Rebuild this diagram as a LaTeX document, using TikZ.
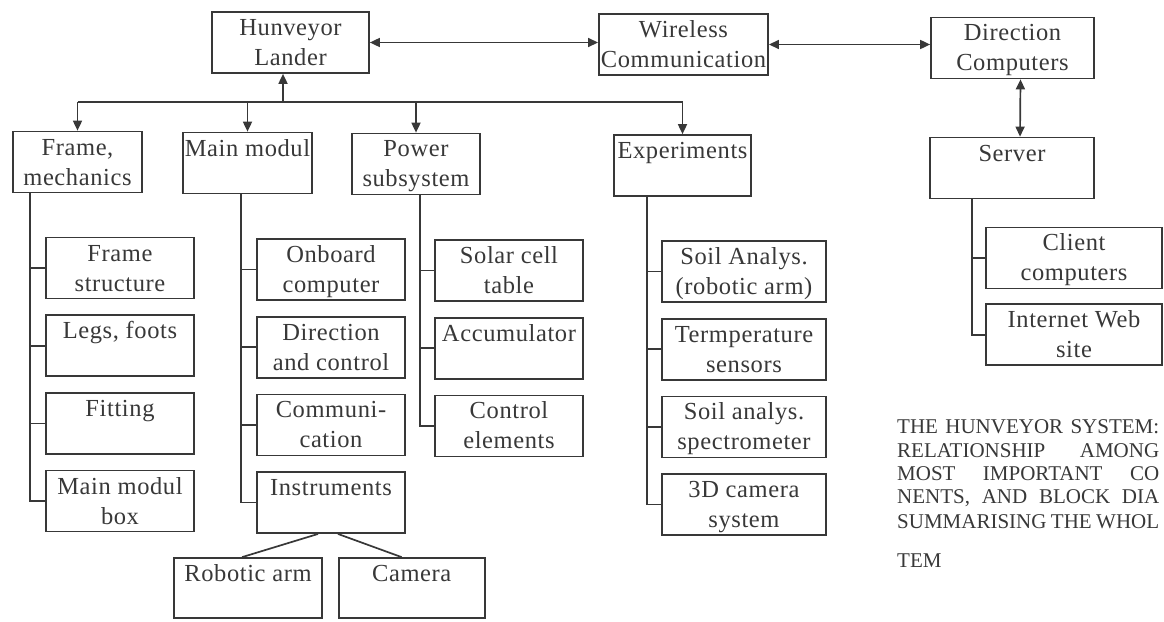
\documentclass[tikz,border=0pt]{standalone}
\usepackage{fontspec}
\setmainfont{Liberation Serif}
\newfontfamily\boxfont[LetterSpace=2.5]{Liberation Serif}
\newfontfamily\capfont{Liberation Serif}
\usetikzlibrary{positioning,arrows.meta}

\begin{document}
\begin{tikzpicture}[x=1pt, y=-1pt]
  \definecolor{ink}{HTML}{383838}
  \newcommand{\rowsep}[0]{15pt}
  \newcommand{\boxtext}[2]{\rule[-4pt]{0pt}{25pt}#1\\\rule[-5pt]{0pt}{25pt}#2}
  \tikzstyle{block}     = [rectangle, draw = ink, line width=1.7pt, text = ink, font={\boxfont\fontsize{24.5}{30}\selectfont}, align=center, inner xsep=2pt, inner ysep=0pt, minimum height=61pt]
  \tikzstyle{sub}       = [block, minimum width=148pt]
  \tikzstyle{line}      = [line width=1.7pt, draw = ink]
  \tikzstyle{oneway}    = [line, -{Triangle[length=10pt, width=9pt]}]
  \tikzstyle{twoway}    = [line, {Triangle[length=10pt, width=9pt]}-{Triangle[length=10pt, width=9pt]}]
  \tikzstyle{caption}   = [text = ink, font={\capfont\fontsize{21}{24}\selectfont}, inner sep=0pt, anchor=base west]
  \useasboundingbox (0,0) rectangle (1164,621);
  \clip (0,0) rectangle (1164,621);
  % top row
  \node [block, minimum width=157pt] (hunveyor)  at (290.5,42.5) {\boxtext{Hunveyor}{Lander}};
  \node [block, minimum width=165pt] (wireless)  at (683.5,44.5) {\boxtext{Wireless}{Communication}};
  \node [block, minimum width=163pt] (direction) at (1012.5,48)  {\boxtext{Direction}{Computers}};
  \node [block, minimum width=164pt] (server)    at (1012,168)   {\boxtext{Server}{}};
  % subsystems
  \node [block, minimum width=129pt] (frame)       at (77.5,162)  {\boxtext{Frame,}{mechanics}};
  \node [block, minimum width=129pt] (mainmodul)   at (247.5,163) {\boxtext{Main modul}{}};
  \node [block, minimum width=128pt] (power)       at (416,164)   {\boxtext{Power}{subsystem}};
  \node [block, minimum width=137pt] (experiments) at (682.5,165.5) {\boxtext{Experiments}{}};
  % frame column
  \node [sub] (fstructure) at (120,268) {\boxtext{Frame}{structure}};
  \node [sub, below = \rowsep of fstructure] (legs)    {\boxtext{Legs, foots}{}};
  \node [sub, below = \rowsep of legs]       (fitting) {\boxtext{Fitting}{}};
  \node [sub, below = \rowsep of fitting]    (mmbox)   {\boxtext{Main modul}{box}};
  % main modul column
  \node [sub] (onboard) at (331,269.5) {\boxtext{Onboard}{computer}};
  \node [sub, below = \rowsep of onboard] (dircontrol) {\boxtext{Direction}{and control}};
  \node [sub, below = \rowsep of dircontrol] (communi) {\boxtext{Communi-}{cation}};
  \node [sub, below = \rowsep of communi]    (instruments) {\boxtext{Instruments}{}};
  \node [sub, minimum height=60pt] (robotic) at (248,588) {\boxtext{Robotic arm}{}};
  \node [sub, minimum width=146pt, minimum height=60pt, right = \rowsep of robotic] (camera) {\boxtext{Camera}{}};
  % power column
  \node [sub] (solar) at (509,270.5) {\boxtext{Solar cell}{table}};
  \node [sub, below = \rowsep of solar]        (accumulator) {\boxtext{Accumulator}{}};
  \node [sub, below = \rowsep of accumulator]  (controlel)   {\boxtext{Control}{elements}};
  % experiments column
  \node [sub, minimum width=164pt] (soilarm) at (744,271.5) {\boxtext{Soil Analys.}{(robotic arm)}};
  \node [sub, minimum width=164pt, below = \rowsep of soilarm] (tempsens) {\boxtext{Termperature}{sensors}};
  \node [sub, minimum width=164pt, below = \rowsep of tempsens] (soilspec) {\boxtext{Soil analys.}{spectrometer}};
  \node [sub, minimum width=164pt, below = \rowsep of soilspec] (camera3d) {\boxtext{3D camera}{system}};
  % server column
  \node [sub, minimum width=176pt] (client) at (1074,258) {\boxtext{Client}{computers}};
  \node [sub, minimum width=176pt, below = 14pt of client] (website) {\boxtext{Internet Web}{site}};
  % connectors
  \draw [twoway] (hunveyor.east) -- (hunveyor.east -| wireless.west);
  \draw [twoway] (wireless.east) -- (wireless.east -| direction.west);
  \draw [twoway] ([xshift=8pt]direction.south) -- ([xshift=8pt]server.north);
  \coordinate (bus) at (283,102);
  \draw [oneway] (bus) -- (bus |- hunveyor.south);
  \draw [line] (frame.north |- bus) -- (experiments.north |- bus);
  \foreach \top in {frame, mainmodul, power, experiments}
    \draw [oneway] (\top.north |- bus) -- (\top.north);
  % trunks
  \coordinate (ftrunk) at ([xshift=-47.5pt]frame.south);
  \coordinate (mtrunk) at ([xshift=-6.5pt]mainmodul.south);
  \coordinate (ptrunk) at ([xshift=4pt]power.south);
  \coordinate (etrunk) at ([xshift=-35.5pt]experiments.south);
  \coordinate (strunk) at ([xshift=-40pt]server.south);
  \draw [line] (ftrunk) |- (mmbox.west);
  \draw [line] (mtrunk) |- (instruments.west);
  \draw [line] (ptrunk) |- (controlel.west);
  \draw [line] (etrunk) |- (camera3d.west);
  \draw [line] (strunk) |- (website.west);
  \foreach \sub in {fstructure, legs, fitting}
    \draw [line] (ftrunk |- \sub.west) -- (\sub.west);
  \foreach \sub in {onboard, dircontrol, communi}
    \draw [line] (mtrunk |- \sub.west) -- (\sub.west);
  \foreach \sub in {solar, accumulator}
    \draw [line] (ptrunk |- \sub.west) -- (\sub.west);
  \foreach \sub in {soilarm, tempsens, soilspec}
    \draw [line] (etrunk |- \sub.west) -- (\sub.west);
  \draw [line] (strunk |- client.west) -- (client.west);
  \draw [line] ([xshift=-13pt]instruments.south) -- ([xshift=-6pt]robotic.north);
  \draw [line] ([xshift=7pt]instruments.south) -- ([xshift=-10pt]camera.north);
  % caption
  \node [caption] (cap1) at (897,433) {\makebox[262pt][s]{THE HUNVEYOR SYSTEM:}};
  \node [caption] (cap2) at (897,457) {\makebox[262pt][s]{RELATIONSHIP AMONG}};
  \node [caption] (cap3) at (897,480) {\makebox[262pt][s]{MOST IMPORTANT CO}};
  \node [caption] (cap4) at (897,503) {\makebox[262pt][s]{NENTS, AND BLOCK DIA}};
  \node [caption] (cap5) at (897,528) {\makebox[262pt][s]{SUMMARISING THE WHOL}};
  \node [caption] (cap6) at (897,567) {TEM};
\end{tikzpicture}
\end{document}
